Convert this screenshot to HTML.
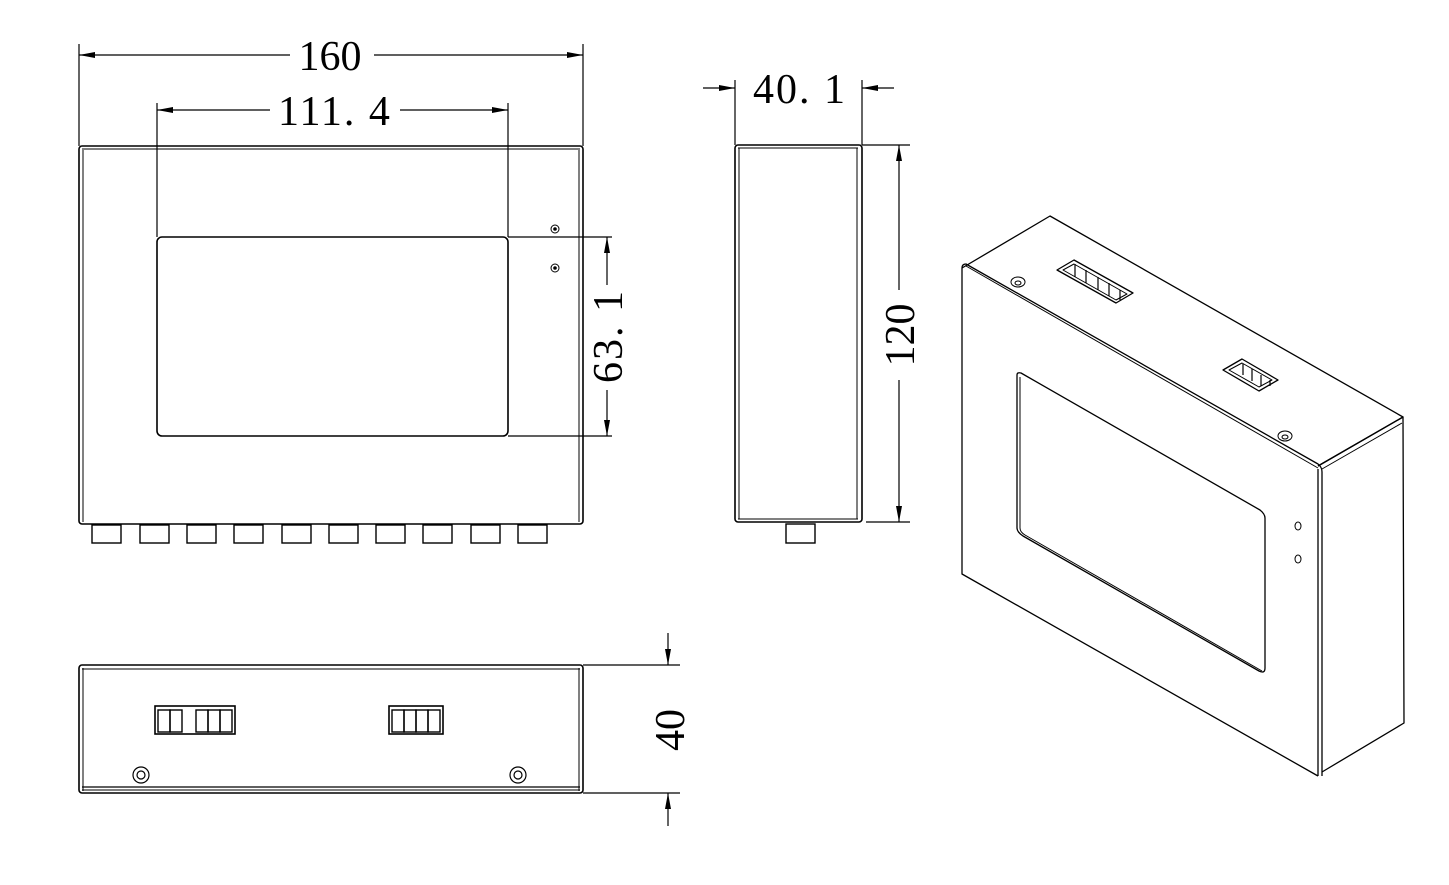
<!DOCTYPE html>
<html><head><meta charset="utf-8"><style>html,body{margin:0;padding:0;background:#fff}svg{display:block}</style></head>
<body>
<svg width="1449" height="885" viewBox="0 0 1449 885" xmlns="http://www.w3.org/2000/svg" font-family="Liberation Serif, serif" fill="none" stroke="#000">
<defs>
<marker id="a" viewBox="0 0 16 6" refX="16" refY="3" markerWidth="16" markerHeight="6" markerUnits="userSpaceOnUse" orient="auto"><path d="M0 0L16 3L0 6z" fill="#000" stroke="none"/></marker>
</defs>
<g stroke-width="1.6">
<!-- Front view -->
<rect x="79" y="146" width="504" height="378" rx="3"/>
<line x1="83" y1="150" x2="83" y2="522" stroke-width="1"/>
<line x1="579" y1="150" x2="579" y2="522" stroke-width="1"/>
<line x1="82" y1="149" x2="580" y2="149" stroke-width="1"/>
<rect x="157" y="237" width="351" height="199" rx="5"/>
<g stroke-width="1.4">
<rect x="92" y="525" width="29" height="18"/><rect x="140" y="525" width="29" height="18"/><rect x="187" y="525" width="29" height="18"/><rect x="234" y="525" width="29" height="18"/><rect x="282" y="525" width="29" height="18"/><rect x="329" y="525" width="29" height="18"/><rect x="376" y="525" width="29" height="18"/><rect x="423" y="525" width="29" height="18"/><rect x="471" y="525" width="29" height="18"/><rect x="518" y="525" width="29" height="18"/>
</g>
<circle cx="555" cy="229" r="4" stroke-width="1"/><circle cx="555" cy="229" r="1" fill="#000"/>
<circle cx="555" cy="268" r="4" stroke-width="1"/><circle cx="555" cy="268" r="1" fill="#000"/>
<!-- dims front -->
<line x1="79" y1="44" x2="79" y2="146" stroke-width="1.2"/>
<line x1="583" y1="44" x2="583" y2="146" stroke-width="1.2"/>
<line x1="290" y1="55" x2="79" y2="55" marker-end="url(#a)" stroke-width="1.2"/>
<line x1="374" y1="55" x2="583" y2="55" marker-end="url(#a)" stroke-width="1.2"/>
<line x1="157" y1="103" x2="157" y2="237" stroke-width="1.2"/>
<line x1="508" y1="103" x2="508" y2="237" stroke-width="1.2"/>
<line x1="270" y1="110" x2="157" y2="110" marker-end="url(#a)" stroke-width="1.2"/>
<line x1="400" y1="110" x2="508" y2="110" marker-end="url(#a)" stroke-width="1.2"/>
<line x1="508" y1="237" x2="612" y2="237" stroke-width="1.2"/>
<line x1="508" y1="436" x2="612" y2="436" stroke-width="1.2"/>
<line x1="607" y1="285" x2="607" y2="237" marker-end="url(#a)" stroke-width="1.2"/>
<line x1="607" y1="390" x2="607" y2="436" marker-end="url(#a)" stroke-width="1.2"/>
<!-- Side view -->
<rect x="735" y="145" width="127" height="377" rx="3"/>
<line x1="739" y1="148" x2="739" y2="519" stroke-width="1"/>
<line x1="857" y1="148" x2="857" y2="519" stroke-width="1"/>
<line x1="738" y1="148" x2="858" y2="148" stroke-width="1"/>
<line x1="738" y1="519" x2="858" y2="519" stroke-width="1"/>
<rect x="786" y="524" width="29" height="19" stroke-width="1.4"/>
<line x1="735" y1="80" x2="735" y2="145" stroke-width="1.2"/>
<line x1="862" y1="80" x2="862" y2="145" stroke-width="1.2"/>
<line x1="703" y1="88" x2="735" y2="88" marker-end="url(#a)" stroke-width="1.2"/>
<line x1="894" y1="88" x2="862" y2="88" marker-end="url(#a)" stroke-width="1.2"/>
<line x1="862" y1="145" x2="910" y2="145" stroke-width="1.2"/>
<line x1="866" y1="522" x2="910" y2="522" stroke-width="1.2"/>
<line x1="899" y1="290" x2="899" y2="145" marker-end="url(#a)" stroke-width="1.2"/>
<line x1="899" y1="380" x2="899" y2="522" marker-end="url(#a)" stroke-width="1.2"/>
<!-- Bottom view -->
<rect x="79" y="665" width="504" height="128" rx="3"/>
<line x1="82" y1="669" x2="580" y2="669" stroke-width="1"/>
<line x1="82" y1="787" x2="580" y2="787" stroke-width="1.2"/>
<line x1="82" y1="790" x2="580" y2="790" stroke-width="1"/>
<line x1="83" y1="668" x2="83" y2="791" stroke-width="1"/>
<line x1="579" y1="668" x2="579" y2="791" stroke-width="1"/>
<rect x="155" y="706" width="80" height="28"/>
<rect x="158" y="710" width="12" height="22" stroke-width="1.4"/><rect x="170" y="710" width="12" height="22" stroke-width="1.4"/>
<rect x="196" y="710" width="12" height="22" stroke-width="1.4"/><rect x="208" y="710" width="12" height="22" stroke-width="1.4"/><rect x="220" y="710" width="12" height="22" stroke-width="1.4"/>
<rect x="389" y="706" width="54" height="28"/>
<rect x="392" y="710" width="12" height="22" stroke-width="1.4"/><rect x="404" y="710" width="12" height="22" stroke-width="1.4"/><rect x="416" y="710" width="12" height="22" stroke-width="1.4"/><rect x="428" y="710" width="12" height="22" stroke-width="1.4"/>
<circle cx="141" cy="775" r="8" stroke-width="1.2"/><circle cx="141" cy="775" r="4" stroke-width="1.2"/>
<circle cx="518" cy="775" r="8" stroke-width="1.2"/><circle cx="518" cy="775" r="4" stroke-width="1.2"/>
<line x1="583" y1="665" x2="680" y2="665" stroke-width="1.2"/>
<line x1="583" y1="793" x2="680" y2="793" stroke-width="1.2"/>
<line x1="668" y1="633" x2="668" y2="665" marker-end="url(#a)" stroke-width="1.2"/>
<line x1="668" y1="826" x2="668" y2="793" marker-end="url(#a)" stroke-width="1.2"/>
<!-- Iso view -->
<g stroke-width="1.3" stroke-linejoin="round">
<path d="M962 268 L1050 216 L1403 417 L1318 466"/>
<path d="M966 266 L1318 468" stroke-width="1"/>
<path d="M962 268 Q962 264 966 264 L1318 464 Q1322 467 1322 472 L1322 776 M1318 469 L1318 776"/>
<path d="M962 268 L962 574 L1318 776"/>
<path d="M1318 466 L1403 417 L1404 723 L1322 772"/>
<path d="M1322 469 L1402 423" stroke-width="1"/>
<path d="M1017 375 Q1017 372 1021 373 L1260 510 Q1265 514 1265 518 L1265 668 Q1265 674 1259 671 L1023 536 Q1017 532 1017 528 Z"/>
<path d="M1020 377 L1020 528 Q1020 532 1025 535 L1262 671" stroke-width="1"/>
<ellipse cx="1298" cy="526" rx="3" ry="4" stroke-width="1"/>
<ellipse cx="1298" cy="559" rx="3" ry="4" stroke-width="1"/>
<ellipse cx="1018" cy="282" rx="7" ry="5" stroke-width="1"/><ellipse cx="1018" cy="283" rx="3" ry="2" stroke-width="1"/>
<ellipse cx="1285" cy="436" rx="7" ry="5" stroke-width="1"/><ellipse cx="1285" cy="437" rx="3" ry="2" stroke-width="1"/>
<path d="M1057 270 L1074 260 L1133 293 L1116 303 Z"/>
<path d="M1063 270 L1074 264 L1127 294 L1116 300 Z" stroke-width="1"/>
<path d="M1075 264 L1075 277 M1086 270 L1086 283 M1098 277 L1098 290 M1109 283 L1109 296 M1120 290 L1120 300" stroke-width="1.2"/>
<path d="M1223 370 L1242 359 L1278 380 L1259 391 Z"/>
<path d="M1229 370 L1242 363 L1272 380 L1259 387 Z" stroke-width="1"/>
<path d="M1243 364 L1243 375 M1252 369 L1252 381 M1261 375 L1261 386 M1270 380 L1270 386" stroke-width="1.2"/>
</g>
</g>
<g fill="#000" stroke="none" font-size="42">
<text x="330" y="70" text-anchor="middle">160</text>
<text x="335" y="125" text-anchor="middle" letter-spacing="2">111. 4</text>
<text x="800" y="103" text-anchor="middle" letter-spacing="2">40. 1</text>
<text transform="translate(622,336) rotate(-90)" text-anchor="middle" letter-spacing="2">63. 1</text>
<text transform="translate(914,335) rotate(-90)" text-anchor="middle">120</text>
<text transform="translate(684,730) rotate(-90)" text-anchor="middle">40</text>
</g>
</svg>
</body></html>
